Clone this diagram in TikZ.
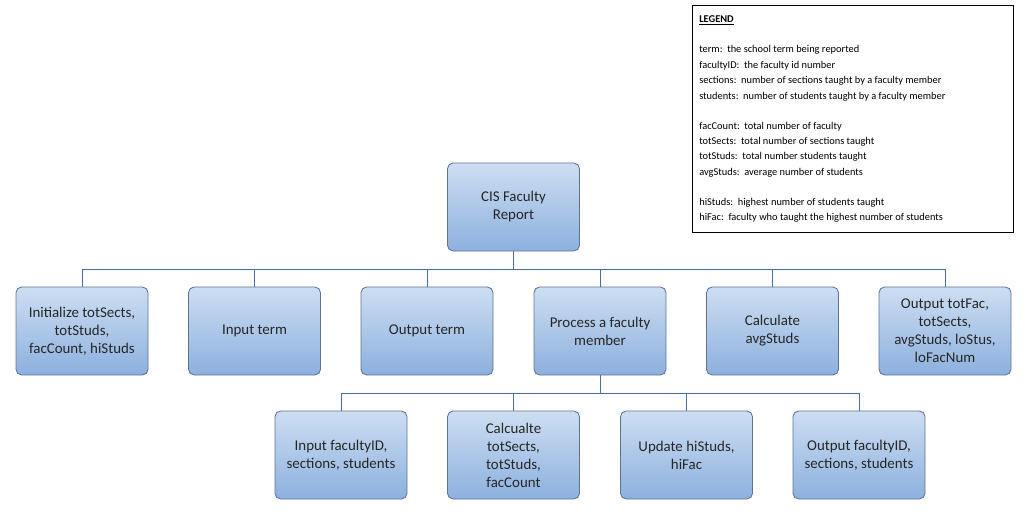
\documentclass[tikz,border=0pt]{standalone}
\usepackage{fontspec}
\setmainfont{Carlito}
\definecolor{btop}{RGB}{205,222,242}
\definecolor{bbot}{RGB}{140,176,222}
\definecolor{bdr}{RGB}{95,115,145}
\definecolor{lnc}{RGB}{70,110,160}
\begin{document}
\begin{tikzpicture}[x=0.025cm,y=-0.025cm,
 box/.style={draw=bdr,line width=0.6pt,rounded corners=4pt,top color=btop,bottom color=bbot,minimum width=132*0.025cm,minimum height=88*0.025cm,align=center,font=\fontsize{10.6}{12.8}\selectfont,text=black!85},
 ln/.style={draw=lnc,line width=0.6pt},
 lg/.style={anchor=base west,inner sep=0,font=\fontsize{7.4}{8}\selectfont}]
\useasboundingbox (0,0) rectangle (1024,514);
\node[box] (root) at (513.5,207) {CIS Faculty\\Report};
\node[box] (a) at (82,331) {Initialize totSects,\\totStuds,\\facCount, hiStuds};
\node[box] (b) at (254.5,331) {Input term};
\node[box] (c) at (427,331) {Output term};
\node[box] (d) at (600,331) {Process a faculty\\member};
\node[box] (e) at (772.5,331) {Calculate\\avgStuds};
\node[box] (f) at (945,331) {Output totFac,\\totSects,\\avgStuds, loStus,\\loFacNum};
\node[box] (g) at (341,455) {Input facultyID,\\sections, students};
\node[box] (h) at (513.5,455) {Calcualte\\totSects,\\totStuds,\\facCount};
\node[box] (i) at (686.5,455) {Update hiStuds,\\hiFac};
\node[box] (j) at (859,455) {Output facultyID,\\sections, students};
\coordinate (bus1) at (513.5,269);
\coordinate (bus2) at (600,393);
\draw[ln] (root.south) -- (bus1);
\foreach \n in {a,b,c,d,e,f} \draw[ln] (bus1) -| (\n.north);
\draw[ln] (d.south) -- (bus2);
\foreach \n in {g,h,i,j} \draw[ln] (bus2) -| (\n.north);
\node[draw=black,line width=0.6pt,minimum width=321*0.025cm,minimum height=227*0.025cm,inner sep=0] (leg) at (852.5,118.5) {};
\node[lg,font=\fontsize{7.4}{8}\selectfont\bfseries] (l0) at (699,22) {\underline{LEGEND}};
\node[lg] (l1) at (699,52) {term:\ \ the school term being reported};
\node[lg] (l2) at (699,68) {facultyID:\ \ the faculty id number};
\node[lg] (l3) at (699,83) {sections:\ \ number of sections taught by a faculty member};
\node[lg] (l4) at (699,99) {students:\ \ number of students taught by a faculty member};
\node[lg] (l5) at (699,129) {facCount:\ \ total number of faculty};
\node[lg] (l6) at (699,144) {totSects:\ \ total number of sections taught};
\node[lg] (l7) at (699,159) {totStuds:\ \ total number students taught};
\node[lg] (l8) at (699,175) {avgStuds:\ \ average number of students};
\node[lg] (l9) at (699,205) {hiStuds:\ \ highest number of students taught};
\node[lg] (l10) at (699,220) {hiFac:\ \ faculty who taught the highest number of students};
\end{tikzpicture}
\end{document}
